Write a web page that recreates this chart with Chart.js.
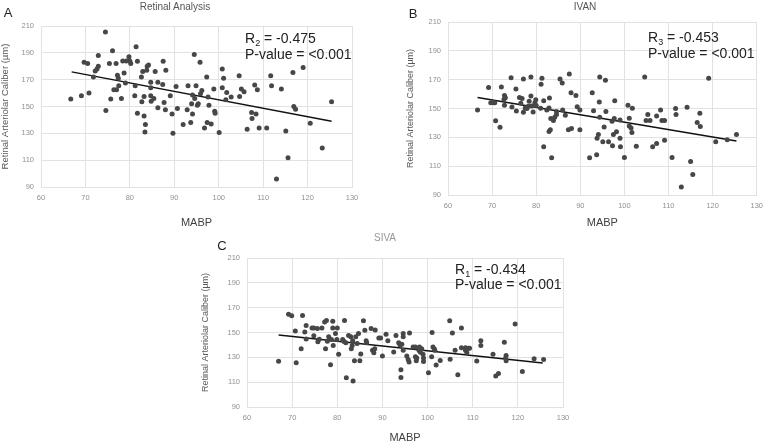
<!DOCTYPE html>
<html>
<head>
<meta charset="utf-8">
<script src="https://cdn.jsdelivr.net/npm/chart.js@4.4.1/dist/chart.umd.min.js"></script>
<style>
  body { margin: 0; background: #fff; font-family: "Liberation Sans", Arial, sans-serif; }
  #wrap { position: relative; width: 769px; height: 443px; overflow: hidden; }
  canvas { position: absolute; }
  .lbl { position: absolute; white-space: nowrap; }
  .title { transform: translate(-50%, -50%); font-size: 10px; }
  .panel { transform: translate(-50%, -50%); font-size: 13px; color: #222; }
  .stat { font-size: 14px; color: #222; }
  .stat sub { font-size: 9px; vertical-align: -3px; line-height: 0; }
</style>
</head>
<body>
<div id="wrap">
  <canvas id="chartA" width="365" height="235" style="left:0;top:0"></canvas>
  <canvas id="chartB" width="389" height="235" style="left:380px;top:0"></canvas>
  <canvas id="chartC" width="400" height="218" style="left:190px;top:225px"></canvas>

  <div class="lbl panel" style="left:8px;top:12px">A</div>
  <div class="lbl panel" style="left:413px;top:13px">B</div>
  <div class="lbl panel" style="left:222px;top:245px">C</div>

  <div class="lbl title" style="left:175px;top:6px;color:#555">Retinal Analysis</div>
  <div class="lbl title" style="left:585px;top:6px;color:#555">IVAN</div>
  <div class="lbl title" style="left:385px;top:237px;color:#999">SIVA</div>

  <div class="lbl stat" style="left:245px;top:30px;line-height:16px">R<sub>2</sub> = -0.475<br>P-value = &lt;0.001</div>
  <div class="lbl stat" style="left:648px;top:29px;line-height:16px">R<sub>3</sub> = -0.453<br>P-value = &lt;0.001</div>
  <div class="lbl stat" style="left:455px;top:262px;line-height:15px">R<sub>1</sub> = -0.434<br>P-value = &lt;0.001</div>
</div>

<script>
// axis ticks (MABP on x, caliber on y)
const xTicks = [60, 70, 80, 90, 100, 110, 120, 130];
const yTicks = [90, 110, 130, 150, 170, 190, 210];

// A - Retinal Analysis
const retinalX = [
  66.7, 69.1, 69.7, 70.5, 70.8, 71.8, 72.2, 72.6, 72.9, 72.9,
  74.5, 74.6, 75.4, 75.7, 76.1, 76.4, 76.9, 77.0, 77.2, 77.4,
  77.5, 78.1, 78.4, 78.7, 79.0, 79.2, 79.8, 80.0, 80.2, 81.1,
  81.4, 81.7, 81.7, 81.2, 82.7, 82.6, 82.9, 83.2, 83.2, 83.4,
  83.5, 83.8, 83.9, 84.2, 84.7, 84.7, 84.7, 84.8, 85.4, 85.7,
  86.3, 86.3, 87.4, 87.5, 87.7, 88.0, 88.1, 89.1, 89.5, 89.7,
  90.4, 90.7, 92.0, 92.9, 93.1, 93.7, 93.9, 94.1, 94.1, 94.5,
  94.6, 94.9, 95.2, 95.4, 95.8, 95.9, 96.2, 96.8, 97.3, 97.4,
  97.6, 97.8, 98.3, 98.9, 99.1, 99.2, 100.1, 100.8, 100.8, 101.1,
  101.6, 101.8, 102.8, 104.6, 104.7, 105.1, 105.7, 106.4, 107.4, 107.5,
  108.1, 108.4, 108.7, 109.1, 110.8, 111.7, 111.9, 113.0, 114.1, 115.1,
  115.6, 116.7, 116.9, 117.3, 119.0, 120.6, 123.3, 125.4
];
const retinalY = [
  155.5, 158, 183, 182, 160, 172, 176.5, 178, 180, 188,
  205.5, 147, 182, 155.5, 191.5, 162.5, 182, 162.5, 173.3, 171,
  165.5, 156, 184, 175, 167.5, 184, 187, 184, 182, 158,
  194.6, 183.7, 145, 165.5, 153.5, 172, 176, 157.5, 143, 131,
  136.6, 177, 180, 181, 168, 164, 158, 154, 156, 176,
  149, 168, 166.4, 183.7, 153, 147.5, 177, 158, 144.5, 130,
  165, 148.5, 136.6, 147.5, 165.5, 138, 152, 158.5, 144.5, 188.7,
  156, 165.5, 151, 152, 183, 159.5, 162, 134, 172, 138,
  157, 151, 137, 163, 146.5, 145, 130.6, 164, 178, 171,
  155, 160.5, 157, 173, 157.5, 163, 161, 133, 145.5, 141,
  166, 144.5, 162.5, 134, 134, 173, 165.5, 96, 163, 131.7,
  111.8, 175.3, 150, 148, 179, 137.6, 119, 153.5
];
const retinalTrendX = [66.9, 125.4];
const retinalTrendY = [175.8, 139];

// B - IVAN
const ivanX = [
  66.7, 69.2, 69.7, 70.3, 70.6, 70.8, 71.8, 72.1, 72.7, 72.8,
  73.0, 72.8, 74.3, 74.5, 75.4, 75.5, 76.2, 76.5, 76.8, 77.1,
  77.1, 77.5, 77.9, 78.2, 78.4, 78.8, 78.8, 79.0, 79.3, 79.7,
  79.9, 80.0, 81.1, 81.0, 81.3, 81.7, 81.7, 82.4, 82.9, 82.9,
  83.0, 83.2, 83.5, 83.3, 83.9, 84.2, 84.6, 84.6, 85.4, 85.9,
  86.0, 86.6, 87.5, 87.3, 88.0, 87.9, 89.0, 89.3, 89.9, 89.9,
  92.7, 92.1, 93.0, 93.7, 93.8, 94.1, 94.4, 94.3, 94.4, 95.7,
  95.8, 95.4, 95.1, 96.4, 97.2, 97.7, 97.8, 97.5, 98.2, 97.3,
  99.0, 99.0, 99.1, 100.0, 100.8, 101.8, 101.1, 101.1, 101.5, 101.7,
  102.7, 104.6, 104.9, 105.8, 105.3, 106.4, 107.3, 107.3, 108.2, 108.5,
  109.1, 109.1, 110.8, 111.6, 111.7, 112.9, 114.2, 115.0, 115.5, 116.5,
  117.2, 117.1, 119.1, 120.7, 123.3, 125.4
];
const ivanY = [
  149, 164.5, 154, 154, 154, 141.5, 137, 165, 156.5, 159,
  157.5, 152.2, 171.4, 151, 163.6, 148.3, 157.6, 153.6, 157, 170.5,
  147.4, 150.4, 150, 151.5, 155, 171.8, 158.6, 151.7, 147.6, 154,
  156, 152, 166.8, 150.2, 170.9, 155.4, 123.4, 149, 150.4, 134,
  157.2, 135.3, 115.8, 143, 141.7, 143.9, 148, 145.8, 170.5, 167.7,
  149, 145.4, 174, 135.3, 136.2, 160.9, 159, 151.3, 135.3, 149,
  160.9, 115.8, 148.5, 117.9, 129.4, 132, 171.8, 154.5, 143.9, 169.6,
  147.9, 137.1, 127, 127, 141.2, 143, 155.4, 131.9, 133.8, 124.2,
  142, 129.4, 123.4, 116, 152.2, 150.2, 143.3, 137.8, 136.5, 133.3,
  123.8, 171.8, 141.6, 141.6, 145.8, 123.4, 125.7, 144.8, 148.9, 141.6,
  141.6, 128, 116, 150, 145.8, 95.5, 150.8, 113.3, 104.2, 140.3,
  137.6, 146.7, 170.9, 127, 128.4, 132
];
const ivanTrendX = [66.7, 125.4];
const ivanTrendY = [157.7, 127.4];

// C - SIVA
const sivaX = [
  67.0, 69.2, 69.9, 70.7, 70.9, 72.0, 72.3, 72.8, 73.1, 73.1,
  74.4, 74.8, 75.6, 74.8, 75.7, 76.0, 76.6, 77.2, 77.6, 77.4,
  77.8, 78.1, 78.5, 79.0, 78.7, 79.0, 80.0, 79.1, 79.6, 79.9,
  80.3, 81.6, 81.2, 81.5, 81.9, 82.5, 82.0, 83.0, 83.4, 83.3,
  83.1, 83.5, 83.8, 85.0, 84.1, 84.7, 84.4, 85.2, 85.8, 86.1,
  86.4, 86.5, 87.5, 88.4, 87.8, 88.1, 88.3, 89.2, 89.6, 90.0,
  90.8, 91.2, 92.5, 93.0, 93.6, 93.9, 94.3, 94.1, 94.1, 94.6,
  94.6, 94.6, 96.0, 95.4, 95.7, 95.9, 96.8, 97.3, 97.3, 97.6,
  97.5, 98.1, 98.4, 99.0, 99.1, 99.1, 98.2, 98.7, 100.2, 100.9,
  101.0, 101.2, 101.5, 101.6, 101.9, 102.8, 104.9, 105.0, 105.5, 106.1,
  106.7, 107.5, 107.5, 108.4, 109.0, 109.3, 108.4, 108.7, 110.9, 111.8,
  111.8, 114.5, 115.1, 115.7, 117.0, 117.4, 117.4, 117.3, 119.4, 121.0,
  123.6, 125.7
];
const sivaY = [
  126.9, 164.7, 163.4, 151.2, 125.6, 137, 163.6, 150.4, 155.7, 144.8,
  153.7, 153.7, 153.2, 147.3, 142.5, 144.6, 153.7, 158.5, 159.6, 137,
  143, 146.6, 124, 159, 144.4, 153.7, 153.7, 139.6, 149.2, 144.4,
  132.5, 159.6, 144.4, 142.8, 141.7, 147.6, 113.6, 146.6, 143.3, 139.6,
  136.9, 111, 127.2, 127.2, 146.6, 149.2, 141.2, 132.6, 159.4, 151.9,
  143.3, 141.7, 153.2, 152.1, 135.8, 133.6, 136.9, 145.5, 145.5, 131,
  148.6, 143.3, 134.2, 147.6, 141.7, 140, 140.6, 120.1, 113.8, 149.2,
  146.6, 135.8, 149.6, 131, 128.3, 126.2, 138.3, 138.3, 130.5, 129.4,
  127.3, 135.7, 134.1, 132.5, 129.4, 126.7, 138.3, 137, 117.5, 130.4,
  150.1, 138.3, 136.7, 135.7, 123.8, 127.5, 159.5, 128.5, 149.6, 135.7,
  116, 153.7, 137.8, 137.8, 137.3, 137.3, 135.7, 133.6, 127, 143.3,
  139.6, 132.5, 114.9, 117, 142.2, 131.5, 127.3, 129.4, 156.9, 118.5,
  128.8, 128.3
];
const sivaTrendX = [67, 125.5];
const sivaTrendY = [148, 125.5];

const font = '"Liberation Sans", Arial, sans-serif';

function toPoints(xs, ys) {
  return xs.map((x, i) => ({ x: x, y: ys[i] }));
}

function drawPanel(id, xs, ys, tx, ty, lay) {
  new Chart(document.getElementById(id), {
    type: "scatter",
    data: {
      datasets: [
        {
          data: toPoints(xs, ys),
          backgroundColor: "#474747",
          borderWidth: 0,
          pointRadius: 2.5,
        },
        {
          type: "line",
          data: toPoints(tx, ty),
          borderColor: "#111",
          borderWidth: 1.5,
          pointRadius: 0,
          fill: false,
        },
      ],
    },
    options: {
      responsive: false,
      animation: false,
      layout: { padding: lay.padding },
      plugins: { legend: { display: false }, tooltip: { enabled: false } },
      scales: {
        x: {
          type: "linear",
          min: xTicks[0],
          max: xTicks[xTicks.length - 1],
          afterBuildTicks: (s) => { s.ticks = xTicks.map((v) => ({ value: v })); },
          afterFit: (s) => { s.height = lay.xHeight; },
          ticks: { color: "#909090", font: { family: font, size: 7.5 }, padding: 6, maxRotation: 0 },
          grid: { color: "#e2e2e2", drawTicks: false },
          border: { color: "#e2e2e2" },
          title: {
            display: true,
            text: "MABP",
            color: "#404040",
            font: { family: font, size: 11, lineHeight: lay.xTitleLH },
            padding: { top: 4, bottom: lay.xTitlePad },
          },
        },
        y: {
          min: yTicks[0],
          max: yTicks[yTicks.length - 1],
          afterBuildTicks: (s) => { s.ticks = yTicks.map((v) => ({ value: v })); },
          afterFit: (s) => { s.width = lay.yWidth; },
          ticks: { color: "#909090", font: { family: font, size: 7.5 }, padding: 7 },
          grid: { color: "#e2e2e2", drawTicks: false },
          border: { color: "#e2e2e2" },
          title: {
            display: true,
            text: "Retinal Arteriolar Caliber (µm)",
            color: "#595959",
            font: { family: font, size: lay.yTitleSize },
            padding: { top: 0, bottom: 0 },
          },
        },
      },
    },
  });
}

drawPanel("chartA", retinalX, retinalY, retinalTrendX, retinalTrendY, {
  padding: { left: 0, right: 13, top: 26, bottom: 0 },
  yWidth: 41, xHeight: 48, xTitleLH: 1.2, xTitlePad: 5, yTitleSize: 9.5,
});
drawPanel("chartB", ivanX, ivanY, ivanTrendX, ivanTrendY, {
  padding: { left: 25, right: 6, top: 22, bottom: 0 },
  yWidth: 43, xHeight: 40, xTitleLH: 1.2, xTitlePad: 5, yTitleSize: 9,
});
drawPanel("chartC", sivaX, sivaY, sivaTrendX, sivaTrendY, {
  padding: { left: 10, right: 27, top: 33, bottom: 0 },
  yWidth: 47, xHeight: 36, xTitleLH: 1, xTitlePad: 0, yTitleSize: 9,
});
</script>
</body>
</html>
